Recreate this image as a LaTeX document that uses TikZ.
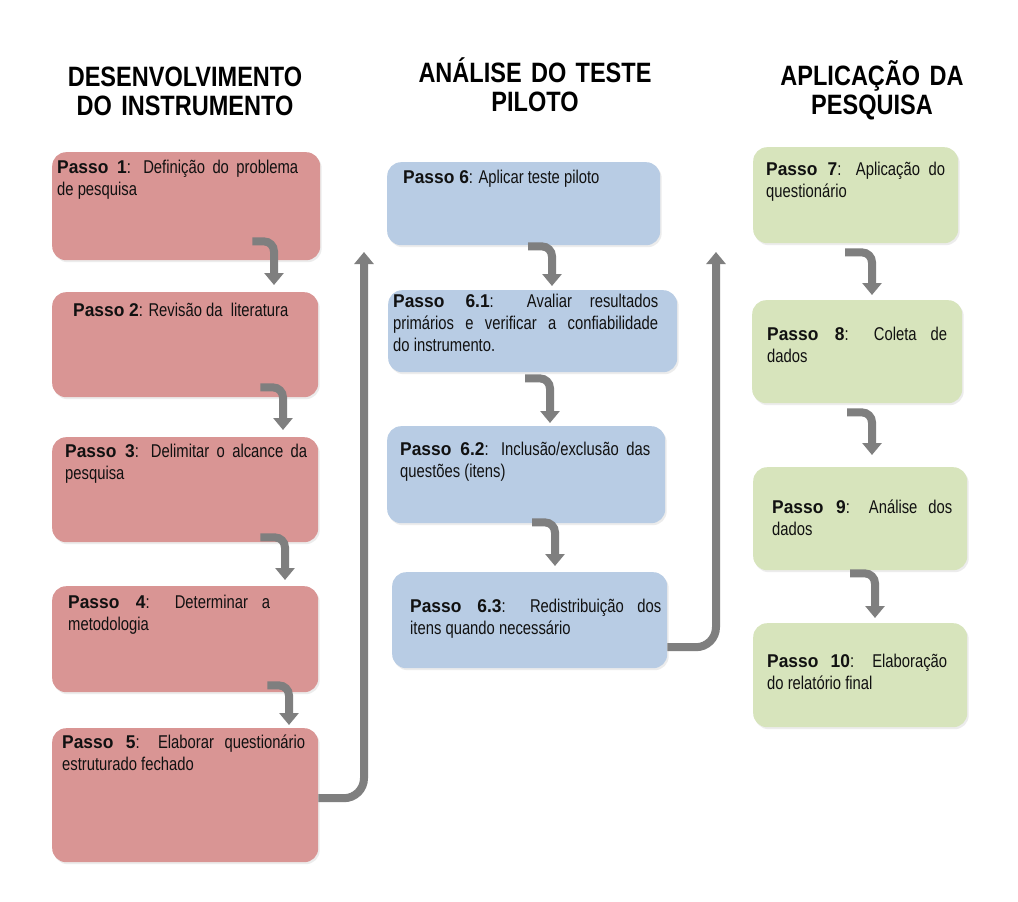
\documentclass[tikz,border=0pt]{standalone}
\usepackage{fontspec}
\setmainfont{Liberation Sans}[FakeStretch=0.8, BoldFeatures={FakeStretch=0.94}]
\newfontfamily\hdrfont{Liberation Sans}[FakeStretch=0.84]
\usetikzlibrary{arrows.meta,shadows}
\definecolor{redbox}{HTML}{D99594}
\definecolor{bluebox}{HTML}{B8CCE4}
\definecolor{greenbox}{HTML}{D7E4BC}
\definecolor{arrowgray}{HTML}{7F7F7F}
\definecolor{txt}{HTML}{111111}
\hyphenpenalty=10000
\begin{document}
\begin{tikzpicture}[x=1pt,y=-1pt,
  box/.style={draw=none, rounded corners=14pt, anchor=north west, inner sep=0pt,
    drop shadow={opacity=0.15, shadow xshift=1.5pt, shadow yshift=-2pt}},
  rbox/.style={box, fill=redbox},
  bbox/.style={box, fill=bluebox},
  gbox/.style={box, fill=greenbox},
  btxt/.style={anchor=base west, inner sep=0pt, align=justify, text=txt,
    font=\fontsize{18.5}{22}\selectfont},
  ltxt/.style={anchor=base west, inner sep=0pt, text=txt,
    font=\fontsize{18.5}{22}\selectfont},
  hdr/.style={anchor=base, inner sep=0pt, text width=330pt, align=center, text=black,
    font=\hdrfont\bfseries\fontsize{28}{29}\selectfont},
  flow/.style={draw=arrowgray, line width=8pt, rounded corners=10pt,
    -{Triangle[width=19pt,length=12pt]}},
  longflow/.style={flow, rounded corners=20pt}
]
\fill[white] (0,0) rectangle (1018,902);
\useasboundingbox (0,0) rectangle (1018,902);

% headers
\node[hdr] (h1) at (185,86) {DESENVOLVIMENTO\\DO INSTRUMENTO};
\node[hdr] (h2) at (535,82) {ANÁLISE DO TESTE\\PILOTO};
\node[hdr] (h3) at (872,85) {APLICAÇÃO DA\\PESQUISA};

% red column
\node[rbox, minimum width=268pt, minimum height=108pt] (b1) at (52,152) {};
\node[rbox, minimum width=266pt, minimum height=105pt] (b2) at (52,292) {};
\node[rbox, minimum width=266pt, minimum height=105pt] (b3) at (52,437) {};
\node[rbox, minimum width=266pt, minimum height=106pt] (b4) at (52,586) {};
\node[rbox, minimum width=266pt, minimum height=134pt] (b5) at (52,728) {};

% blue column
\node[bbox, minimum width=273pt, minimum height=83pt] (b6) at (387,162) {};
\node[bbox, minimum width=289pt, minimum height=82pt] (b61) at (388,290) {};
\node[bbox, minimum width=278pt, minimum height=97pt] (b62) at (387,426) {};
\node[bbox, minimum width=275pt, minimum height=96pt] (b63) at (392,572) {};

% green column
\node[gbox, minimum width=205pt, minimum height=96pt] (b7) at (753,147) {};
\node[gbox, minimum width=210pt, minimum height=103pt] (b8) at (752,300) {};
\node[gbox, minimum width=214pt, minimum height=103pt] (b9) at (753,467) {};
\node[gbox, minimum width=214pt, minimum height=104pt] (b10) at (753,623) {};

% texts
\node[btxt, text width=241pt] (t1) at (57,173) {\textbf{Passo 1}: Definição do problema\linebreak de pesquisa};
\node[ltxt] (t2) at (73,316) {\textbf{Passo 2}: Revisão da\ \ literatura};
\node[btxt, text width=242pt] (t3) at (65,457) {\textbf{Passo 3}: Delimitar o alcance da\linebreak pesquisa};
\node[btxt, text width=202pt] (t4) at (68,608) {\textbf{Passo 4}: Determinar a\linebreak metodologia};
\node[btxt, text width=243pt] (t5) at (62,748) {\textbf{Passo 5}: Elaborar questionário\linebreak estruturado fechado};
\node[ltxt] (t6) at (403,183) {\textbf{Passo 6}: Aplicar teste piloto};
\node[btxt, text width=265pt] (t61) at (393,307) {\textbf{Passo 6.1}: Avaliar resultados\linebreak primários e verificar a confiabilidade\linebreak do instrumento.};
\node[btxt, text width=250pt] (t62) at (400,455) {\textbf{Passo 6.2}: Inclusão/exclusão das\linebreak questões (itens)};
\node[btxt, text width=251pt] (t63) at (410,612) {\textbf{Passo 6.3}: Redistribuição dos\linebreak itens quando necessário};
\node[btxt, text width=179pt] (t7) at (766,175) {\textbf{Passo 7}: Aplicação do\linebreak questionário};
\node[btxt, text width=180pt] (t8) at (767,340) {\textbf{Passo 8}: Coleta de\linebreak dados};
\node[btxt, text width=180pt] (t9) at (772,513) {\textbf{Passo 9}: Análise dos\linebreak dados};
\node[btxt, text width=180pt] (t10) at (767,667) {\textbf{Passo 10}: Elaboração\linebreak do relatório final};

% connectors
\draw[flow] ([xshift=-68pt,yshift=19pt]b1.south east) -| ([xshift=222pt,yshift=7pt]b2.north west);
\draw[flow] ([xshift=-58pt,yshift=10pt]b2.south east) -| ([xshift=231pt,yshift=7pt]b3.north west);
\draw[flow] ([xshift=-58pt,yshift=5pt]b3.south east) -| ([xshift=233pt,yshift=6pt]b4.north west);
\draw[flow] ([xshift=-51pt,yshift=7pt]b4.south east) -| ([xshift=237pt,yshift=3pt]b5.north west);
\draw[longflow] ([yshift=-3pt]b5.east) -| ([xshift=-23pt,yshift=-90pt]b6.north west);

\draw[flow] ([xshift=141pt,yshift=-1pt]b6.south west) -| ([xshift=164pt,yshift=4pt]b61.north west);
\draw[flow] ([xshift=137pt,yshift=-6pt]b61.south west) -| ([xshift=163pt,yshift=3pt]b62.north west);
\draw[flow] ([xshift=145pt,yshift=1pt]b62.south west) -| ([xshift=163pt,yshift=6pt]b63.north west);
\draw[longflow] ([yshift=-27pt]b63.east) -| ([xshift=-37pt,yshift=-105pt]b7.north west);

\draw[flow] ([xshift=92pt,yshift=-9pt]b7.south west) -| ([xshift=120pt,yshift=5pt]b8.north west);
\draw[flow] ([xshift=95pt,yshift=-9pt]b8.south west) -| ([xshift=119pt,yshift=12pt]b9.north west);
\draw[flow] ([xshift=97pt,yshift=-3pt]b9.south west) -| ([xshift=122pt,yshift=5pt]b10.north west);
\end{tikzpicture}
\end{document}
